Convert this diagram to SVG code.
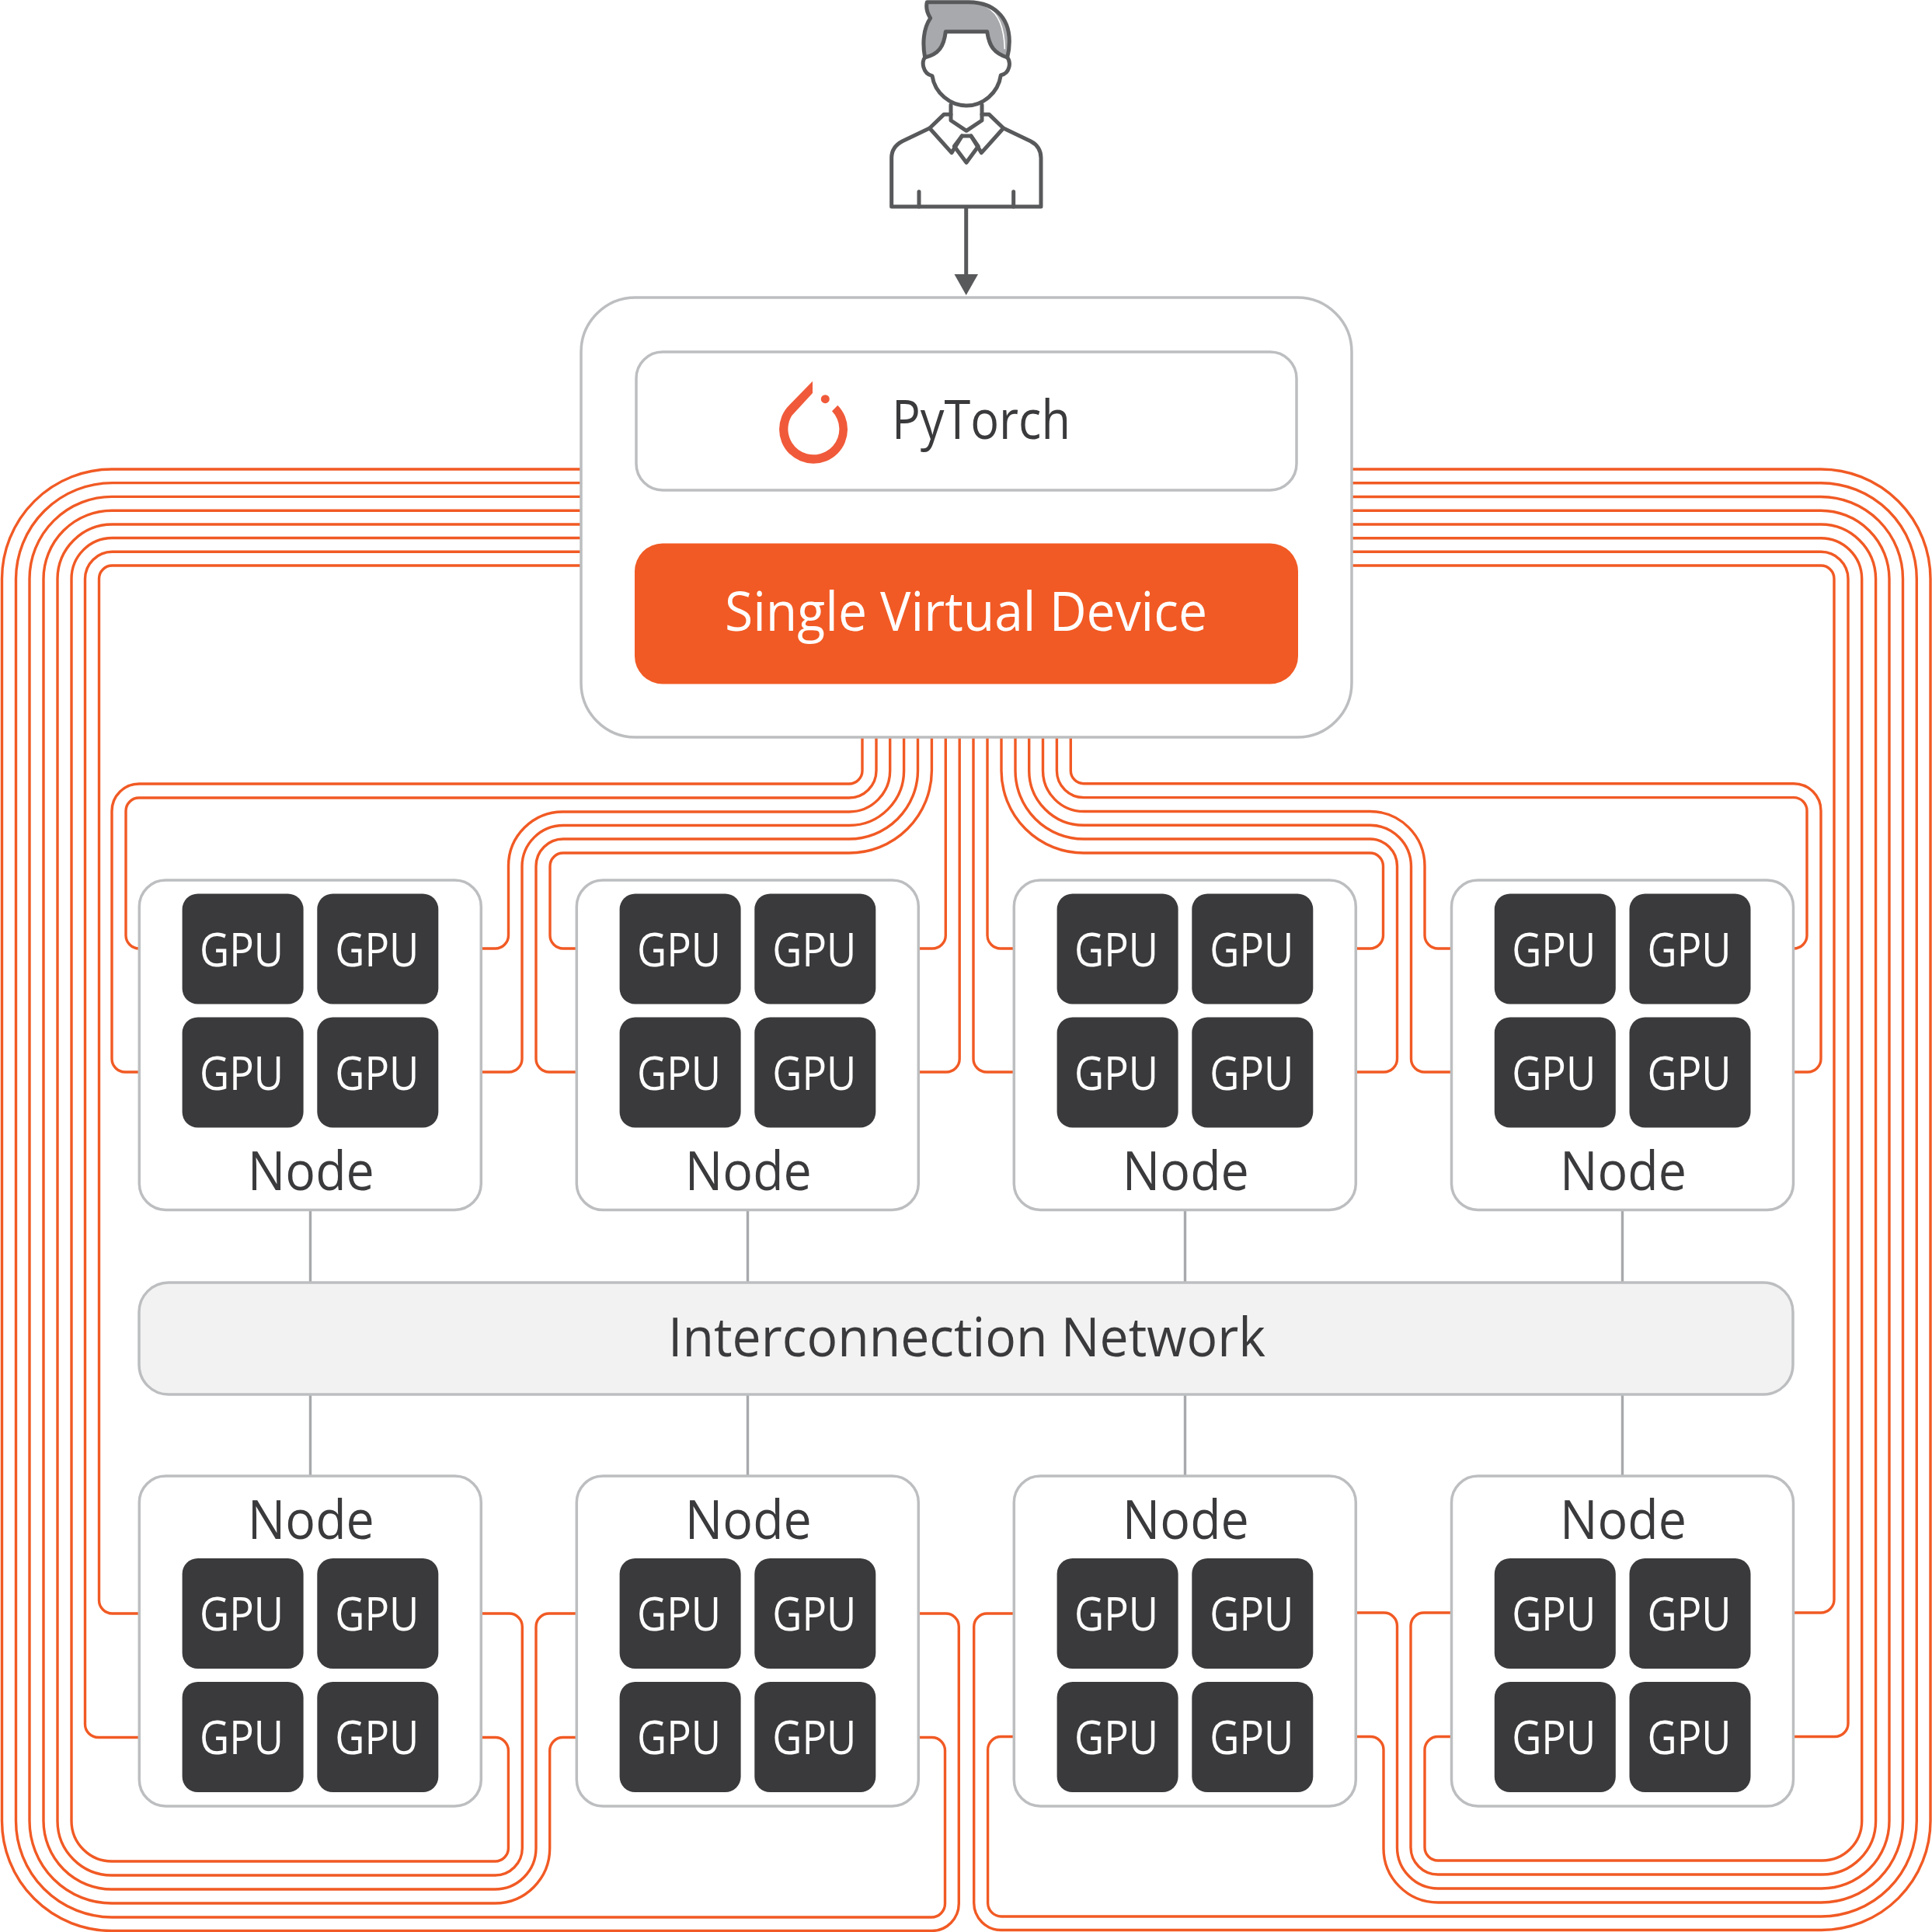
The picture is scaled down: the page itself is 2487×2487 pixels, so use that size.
<svg xmlns="http://www.w3.org/2000/svg" width="2487" height="2487" viewBox="0 0 2487 2487">
<style>
.w{fill:none;stroke:#f15a24;stroke-width:3.4}
.g{fill:none;stroke:#a7a9ac;stroke-width:3.4}
.box{fill:#fff;stroke:#bcbec0;stroke-width:3.5}
.gpu{fill:#3a3a3c}
.gt{font-family:"Open Sans","Noto Sans",sans-serif;font-size:60px;fill:#fff}
.t{font-family:"Open Sans","Noto Sans",sans-serif;font-size:70px;fill:#3a3a3c}
.p{fill:none;stroke:#58595b;stroke-width:5;stroke-linejoin:round;stroke-linecap:round}
.a{fill:#58595b}
</style>
<rect width="2487" height="2487" fill="#fff"/>
<g id="connectors">
<g id="top-links">
<path class="w" d="M1110 949V992A17 17 0 0 1 1093 1009H179A35 35 0 0 0 144 1044V1363A17 17 0 0 0 161 1380H179"/>
<path class="w" d="M1128 949V992A35 35 0 0 1 1093 1027H179A17 17 0 0 0 162 1044V1204A17 17 0 0 0 179 1221"/>
<path class="w" d="M1145.7 949V992A53 53 0 0 1 1093 1045H725A70 70 0 0 0 654.5 1115V1204A17 17 0 0 1 637.5 1221H619"/>
<path class="w" d="M1163.6 949V992A70.6 70.6 0 0 1 1093 1062.5H725A53 53 0 0 0 672 1115V1363A17 17 0 0 1 655 1380H619"/>
<path class="w" d="M1181.5 949V992A88.5 88.5 0 0 1 1093 1080H725A35 35 0 0 0 690 1115V1363A17 17 0 0 0 707 1380H742"/>
<path class="w" d="M1199.4 949V992A106.4 106.4 0 0 1 1093 1098H725A17 17 0 0 0 708 1115V1204A17 17 0 0 0 725 1221H742"/>
<path class="w" d="M1217.3 949V1204A17 17 0 0 1 1200.3 1221H1182"/>
<path class="w" d="M1235.2 949V1363A17 17 0 0 1 1218.2 1380H1182"/>
<path class="w" d="M1253 949V1363A17 17 0 0 0 1270 1380H1305"/>
<path class="w" d="M1271 949V1204A17 17 0 0 0 1288 1221H1305"/>
<path class="w" d="M1289 949V992A106 106 0 0 0 1395 1098H1763.5A17 17 0 0 1 1780.5 1115V1204A17 17 0 0 1 1763.5 1221H1746"/>
<path class="w" d="M1307 949V992A88 88 0 0 0 1395 1080H1763.5A35 35 0 0 1 1798.5 1115V1363A17 17 0 0 1 1781.5 1380H1746"/>
<path class="w" d="M1324.7 949V992A70.3 70.3 0 0 0 1395 1062.3H1763.5A53 53 0 0 1 1816.5 1115V1363A17 17 0 0 0 1833.5 1380H1869"/>
<path class="w" d="M1342.5 949V992A52.5 52.5 0 0 0 1395 1044.5H1763.5A70.5 70.5 0 0 1 1834 1115V1204A17 17 0 0 0 1851 1221H1869"/>
<path class="w" d="M1360.4 949V992A34.6 34.6 0 0 0 1395 1026.6H2309A17 17 0 0 1 2326 1044V1204A17 17 0 0 1 2309 1221"/>
<path class="w" d="M1378.3 949V992A16.7 16.7 0 0 0 1395 1008.7H2309A35 35 0 0 1 2344 1044V1363A17 17 0 0 1 2327 1380H2309"/>
</g>
<g id="left-links">
<path class="w" d="M748 728H144.5A17 17 0 0 0 127.5 745V2060A17 17 0 0 0 144.5 2077H179"/>
<path class="w" d="M748 710.3H144.5A35 35 0 0 0 109.5 745V2219.5A17 17 0 0 0 126.5 2236.5H179"/>
<path class="w" d="M748 692.5H144.5A52.5 52.5 0 0 0 92 745V2344A52 52 0 0 0 144 2396H637.4A17 17 0 0 0 654.4 2379V2253.5A17 17 0 0 0 637.4 2236.5H619.5"/>
<path class="w" d="M748 675H144.5A70.5 70.5 0 0 0 74 745V2344A70 70 0 0 0 144 2414H637.3A35 35 0 0 0 672.3 2379V2094A17 17 0 0 0 655.3 2077H619.5"/>
<path class="w" d="M748 657.2H144.5A88 88 0 0 0 56 745V2344A88 88 0 0 0 144 2432H637A53 53 0 0 0 690 2379V2094A17 17 0 0 1 707 2077H742.3"/>
<path class="w" d="M748 639.4H144.5A106 106 0 0 0 38 745V2344A106 106 0 0 0 144 2450H637A70.7 70.7 0 0 0 707.7 2379V2253.5A17 17 0 0 1 724.7 2236.5H742.3"/>
<path class="w" d="M748 621.6H144.5A124 124 0 0 0 20.5 745V2344A124 124 0 0 0 144 2468H1199A17.5 17.5 0 0 0 1216.5 2450V2253.5A17 17 0 0 0 1199.5 2236.5H1182"/>
<path class="w" d="M748 604H144.5A141.5 141.5 0 0 0 2.5 745V2344A141.5 141.5 0 0 0 144 2485.5H1199A35 35 0 0 0 1234.3 2450V2094A17 17 0 0 0 1217.3 2077H1182"/>
</g>
<g id="right-links">
<path class="w" d="M1740 728H2344A17 17 0 0 1 2361 745V2059A17 17 0 0 1 2344 2076H2309"/>
<path class="w" d="M1740 710.3H2344A35 35 0 0 1 2379 745V2218.5A17 17 0 0 1 2362 2235.5H2309"/>
<path class="w" d="M1740 692.7H2344A52.7 52.7 0 0 1 2396.7 745V2344A51 51 0 0 1 2345.7 2395H1851A17 17 0 0 1 1834 2378V2252.5A17 17 0 0 1 1851 2235.5H1869"/>
<path class="w" d="M1740 675H2344A70.6 70.6 0 0 1 2414.6 745V2344A69 69 0 0 1 2345.6 2413H1851A35 35 0 0 1 1816 2378V2093A17 17 0 0 1 1833 2076H1869"/>
<path class="w" d="M1740 657.3H2344A88 88 0 0 1 2432 745V2344A87 87 0 0 1 2345 2431H1851A53 53 0 0 1 1798.5 2378V2093A17 17 0 0 0 1781.5 2076H1746"/>
<path class="w" d="M1740 639.5H2344A105.5 105.5 0 0 1 2449.5 745V2344A105 105 0 0 1 2344.5 2449H1851A70 70 0 0 1 1781 2378V2252.5A17 17 0 0 0 1764 2235.5H1746"/>
<path class="w" d="M1740 621.7H2344A123.3 123.3 0 0 1 2467.3 745V2344A123 123 0 0 1 2344.3 2467H1289A17.5 17.5 0 0 1 1271.6 2449V2252.5A17 17 0 0 1 1288.6 2235.5H1305"/>
<path class="w" d="M1740 604H2344A141 141 0 0 1 2485 745V2344A140.5 140.5 0 0 1 2344.5 2484.5H1289A35 35 0 0 1 1253.7 2449V2094A17 17 0 0 1 1270.7 2077H1305"/>
</g>
<g id="network-links">
<path class="g" d="M399.5 1557V1651M962.5 1557V1651M1525.5 1557V1651M2088.5 1557V1651M399.5 1795V1900M962.5 1795V1900M1525.5 1795V1900M2088.5 1795V1900"/>
</g>
<g id="arrows">
<path d="M1243.7 267V355" fill="none" stroke="#58595b" stroke-width="5"/>
<path class="a" d="M1228.5 353H1259L1243.7 380Z"/>
<path d="M1243.7 631V676" fill="none" stroke="#58595b" stroke-width="5"/>
<path class="a" d="M1228.5 674H1259L1243.7 701Z"/>
</g>
</g>
<g id="user">
<g transform="translate(1100 0) scale(.33333)">
<path d="M280 8H440C530 8 598 60 598 160C598 180 596 200 590 222C540 205 520 180 512 122H352C345 180 325 210 272 222C262 170 265 110 293 70C280 50 276 25 280 8Z" fill="#a7a9ac"/>
<path d="M500 22C545 40 578 90 580 190" fill="none" stroke="#fff" stroke-width="5"/>
<g style="stroke-width:15px" class="p">
<path d="M280 8H440C530 8 598 60 598 160C598 180 596 200 590 222C540 205 520 180 512 122H352C345 180 325 210 272 222C262 170 265 110 293 70C280 50 276 25 280 8Z"/>
<path d="M272 222C258 235 262 285 300 293C310 360 370 408 432 408C495 408 555 360 565 290C600 285 605 240 590 222"/>
<path d="M372 405V465L432 505L492 465V405"/>
<path d="M372 442H345L290 495L375 590L415 525H450L490 590L575 495L520 442H492"/>
<path d="M415 525L385 565L432 628L478 565L450 525"/>
<path d="M290 495L185 545C160 558 143 580 143 610V798H720V610C720 580 705 558 680 545L575 495"/>
<path d="M249 740V798M614 740V798"/>
</g>
</g>
</g>
<g id="framework">
<rect class="box" x="748" y="383" width="992" height="566" rx="70"/>
<g id="pytorch">
<rect class="box" x="819" y="453" width="850" height="178" rx="34"/>
<path d="M1046 490.7L1016 521.5A44 44 0 1 0 1078.3 521.7L1071 529.3A33 33 0 1 1 1019.3 535L1046 506Z" fill="#f05a3a"/>
<circle cx="1062.3" cy="513.7" r="5.5" fill="#f05a3a"/>
<text class="t" x="1148" y="564.6" textLength="230" lengthAdjust="spacingAndGlyphs">PyTorch</text>
</g>
<g id="virtual-device">
<rect x="817" y="699.5" width="854" height="181" rx="36" fill="#f15a24"/>
<text class="t" x="933" y="812" textLength="621" lengthAdjust="spacingAndGlyphs" style="fill:#fff">Single Virtual Device</text>
</g>
</g>
<g id="network">
<rect x="179" y="1651" width="2129" height="144" rx="38" fill="#f2f2f2" stroke="#bcbec0" stroke-width="3.5"/>
<text class="t" x="860" y="1746" textLength="769" lengthAdjust="spacingAndGlyphs">Interconnection Network</text>
</g>
<g id="node-1" transform="translate(179.3 1133)">
<rect class="box" width="440" height="424.5" rx="34"/>
<rect class="gpu" x="55.3" y="17.5" width="156" height="142" rx="20"/><text class="gt" x="77.7" y="110.5" textLength="108" lengthAdjust="spacingAndGlyphs">GPU</text>
<rect class="gpu" x="229" y="17.5" width="156" height="142" rx="20"/><text class="gt" x="252" y="110.5" textLength="108" lengthAdjust="spacingAndGlyphs">GPU</text>
<rect class="gpu" x="55.3" y="176.5" width="156" height="142" rx="20"/><text class="gt" x="77.7" y="269.5" textLength="108" lengthAdjust="spacingAndGlyphs">GPU</text>
<rect class="gpu" x="229" y="176.5" width="156" height="142" rx="20"/><text class="gt" x="252" y="269.5" textLength="108" lengthAdjust="spacingAndGlyphs">GPU</text>
<text class="t" x="139.5" y="399" textLength="163" lengthAdjust="spacingAndGlyphs">Node</text>
</g>
<g id="node-2" transform="translate(742.3 1133)">
<rect class="box" width="440" height="424.5" rx="34"/>
<rect class="gpu" x="55.3" y="17.5" width="156" height="142" rx="20"/><text class="gt" x="77.7" y="110.5" textLength="108" lengthAdjust="spacingAndGlyphs">GPU</text>
<rect class="gpu" x="229" y="17.5" width="156" height="142" rx="20"/><text class="gt" x="252" y="110.5" textLength="108" lengthAdjust="spacingAndGlyphs">GPU</text>
<rect class="gpu" x="55.3" y="176.5" width="156" height="142" rx="20"/><text class="gt" x="77.7" y="269.5" textLength="108" lengthAdjust="spacingAndGlyphs">GPU</text>
<rect class="gpu" x="229" y="176.5" width="156" height="142" rx="20"/><text class="gt" x="252" y="269.5" textLength="108" lengthAdjust="spacingAndGlyphs">GPU</text>
<text class="t" x="139.5" y="399" textLength="163" lengthAdjust="spacingAndGlyphs">Node</text>
</g>
<g id="node-3" transform="translate(1305.3 1133)">
<rect class="box" width="440" height="424.5" rx="34"/>
<rect class="gpu" x="55.3" y="17.5" width="156" height="142" rx="20"/><text class="gt" x="77.7" y="110.5" textLength="108" lengthAdjust="spacingAndGlyphs">GPU</text>
<rect class="gpu" x="229" y="17.5" width="156" height="142" rx="20"/><text class="gt" x="252" y="110.5" textLength="108" lengthAdjust="spacingAndGlyphs">GPU</text>
<rect class="gpu" x="55.3" y="176.5" width="156" height="142" rx="20"/><text class="gt" x="77.7" y="269.5" textLength="108" lengthAdjust="spacingAndGlyphs">GPU</text>
<rect class="gpu" x="229" y="176.5" width="156" height="142" rx="20"/><text class="gt" x="252" y="269.5" textLength="108" lengthAdjust="spacingAndGlyphs">GPU</text>
<text class="t" x="139.5" y="399" textLength="163" lengthAdjust="spacingAndGlyphs">Node</text>
</g>
<g id="node-4" transform="translate(1868.5 1133)">
<rect class="box" width="440" height="424.5" rx="34"/>
<rect class="gpu" x="55.3" y="17.5" width="156" height="142" rx="20"/><text class="gt" x="77.7" y="110.5" textLength="108" lengthAdjust="spacingAndGlyphs">GPU</text>
<rect class="gpu" x="229" y="17.5" width="156" height="142" rx="20"/><text class="gt" x="252" y="110.5" textLength="108" lengthAdjust="spacingAndGlyphs">GPU</text>
<rect class="gpu" x="55.3" y="176.5" width="156" height="142" rx="20"/><text class="gt" x="77.7" y="269.5" textLength="108" lengthAdjust="spacingAndGlyphs">GPU</text>
<rect class="gpu" x="229" y="176.5" width="156" height="142" rx="20"/><text class="gt" x="252" y="269.5" textLength="108" lengthAdjust="spacingAndGlyphs">GPU</text>
<text class="t" x="139.5" y="399" textLength="163" lengthAdjust="spacingAndGlyphs">Node</text>
</g>
<g id="node-5" transform="translate(179.3 1900)">
<rect class="box" width="440" height="425" rx="34"/>
<text class="t" x="139.5" y="81" textLength="163" lengthAdjust="spacingAndGlyphs">Node</text>
<rect class="gpu" x="55.3" y="106" width="156" height="142" rx="20"/><text class="gt" x="77.7" y="199" textLength="108" lengthAdjust="spacingAndGlyphs">GPU</text>
<rect class="gpu" x="229" y="106" width="156" height="142" rx="20"/><text class="gt" x="252" y="199" textLength="108" lengthAdjust="spacingAndGlyphs">GPU</text>
<rect class="gpu" x="55.3" y="265" width="156" height="142" rx="20"/><text class="gt" x="77.7" y="358" textLength="108" lengthAdjust="spacingAndGlyphs">GPU</text>
<rect class="gpu" x="229" y="265" width="156" height="142" rx="20"/><text class="gt" x="252" y="358" textLength="108" lengthAdjust="spacingAndGlyphs">GPU</text>
</g>
<g id="node-6" transform="translate(742.3 1900)">
<rect class="box" width="440" height="425" rx="34"/>
<text class="t" x="139.5" y="81" textLength="163" lengthAdjust="spacingAndGlyphs">Node</text>
<rect class="gpu" x="55.3" y="106" width="156" height="142" rx="20"/><text class="gt" x="77.7" y="199" textLength="108" lengthAdjust="spacingAndGlyphs">GPU</text>
<rect class="gpu" x="229" y="106" width="156" height="142" rx="20"/><text class="gt" x="252" y="199" textLength="108" lengthAdjust="spacingAndGlyphs">GPU</text>
<rect class="gpu" x="55.3" y="265" width="156" height="142" rx="20"/><text class="gt" x="77.7" y="358" textLength="108" lengthAdjust="spacingAndGlyphs">GPU</text>
<rect class="gpu" x="229" y="265" width="156" height="142" rx="20"/><text class="gt" x="252" y="358" textLength="108" lengthAdjust="spacingAndGlyphs">GPU</text>
</g>
<g id="node-7" transform="translate(1305.3 1900)">
<rect class="box" width="440" height="425" rx="34"/>
<text class="t" x="139.5" y="81" textLength="163" lengthAdjust="spacingAndGlyphs">Node</text>
<rect class="gpu" x="55.3" y="106" width="156" height="142" rx="20"/><text class="gt" x="77.7" y="199" textLength="108" lengthAdjust="spacingAndGlyphs">GPU</text>
<rect class="gpu" x="229" y="106" width="156" height="142" rx="20"/><text class="gt" x="252" y="199" textLength="108" lengthAdjust="spacingAndGlyphs">GPU</text>
<rect class="gpu" x="55.3" y="265" width="156" height="142" rx="20"/><text class="gt" x="77.7" y="358" textLength="108" lengthAdjust="spacingAndGlyphs">GPU</text>
<rect class="gpu" x="229" y="265" width="156" height="142" rx="20"/><text class="gt" x="252" y="358" textLength="108" lengthAdjust="spacingAndGlyphs">GPU</text>
</g>
<g id="node-8" transform="translate(1868.5 1900)">
<rect class="box" width="440" height="425" rx="34"/>
<text class="t" x="139.5" y="81" textLength="163" lengthAdjust="spacingAndGlyphs">Node</text>
<rect class="gpu" x="55.3" y="106" width="156" height="142" rx="20"/><text class="gt" x="77.7" y="199" textLength="108" lengthAdjust="spacingAndGlyphs">GPU</text>
<rect class="gpu" x="229" y="106" width="156" height="142" rx="20"/><text class="gt" x="252" y="199" textLength="108" lengthAdjust="spacingAndGlyphs">GPU</text>
<rect class="gpu" x="55.3" y="265" width="156" height="142" rx="20"/><text class="gt" x="77.7" y="358" textLength="108" lengthAdjust="spacingAndGlyphs">GPU</text>
<rect class="gpu" x="229" y="265" width="156" height="142" rx="20"/><text class="gt" x="252" y="358" textLength="108" lengthAdjust="spacingAndGlyphs">GPU</text>
</g>
</svg>
